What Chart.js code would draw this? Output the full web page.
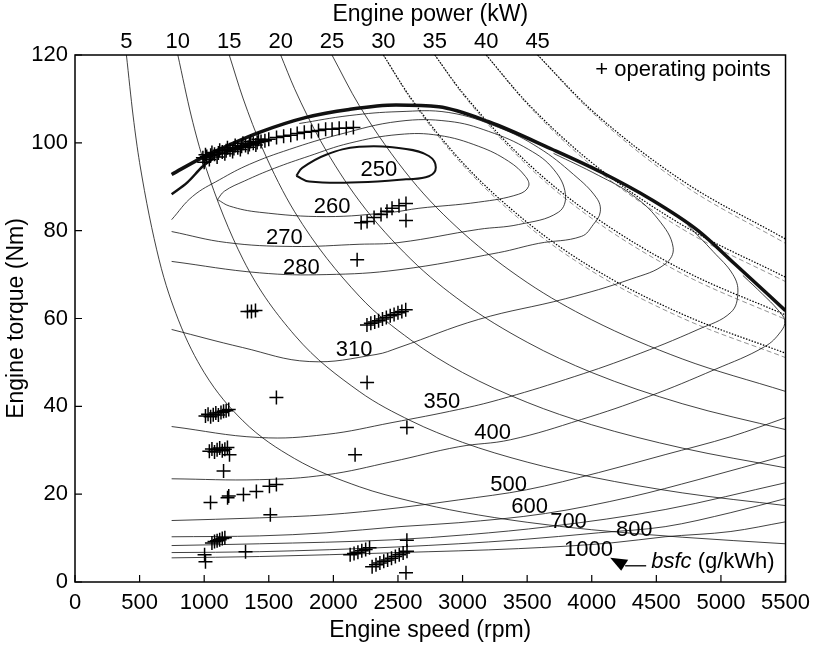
<!DOCTYPE html>
<html>
<head>
<meta charset="utf-8">
<script src="https://cdn.jsdelivr.net/npm/chart.js@4.4.0/dist/chart.umd.min.js"></script>
<style>
  html, body { margin: 0; padding: 0; background: #fff; }
  #wrap { width: 818px; height: 647px; }
</style>
</head>
<body>
<div id="wrap"><canvas id="map" width="818" height="647"></canvas></div>
<script>
// axis ticks
const speedTicks = [0, 500, 1000, 1500, 2000, 2500, 3000, 3500, 4000, 4500, 5000, 5500];
const torqueTicks = [0, 20, 40, 60, 80, 100, 120];
// top axis: where each iso-power line meets the 120 Nm border
const powerLevels = ['5', '10', '15', '20', '25', '30', '35', '40', '45'];
const powerTickRpm = [398, 796, 1194, 1592, 1989, 2387, 2785, 3183, 3581];

// iso-power lines [rpm, Nm]
const power5 = [[398, 120], [450, 106.1], [500, 95.5], [650, 73.5], [800, 59.7], [1000, 47.7], [1300, 36.7], [1700, 28.1], [2200, 21.7], [2600, 18.4], [3000, 15.9], [3500, 13.6], [4000, 11.9], [4700, 10.2], [5500, 8.7]];
const power10 = [[796, 120], [900, 106.1], [1000, 95.5], [1300, 73.5], [1700, 56.2], [2200, 43.4], [2600, 36.7], [3000, 31.8], [3500, 27.3], [4000, 23.9], [4700, 20.3], [5500, 17.4]];
const power15 = [[1194, 120], [1300, 110.2], [1450, 98.8], [1700, 84.3], [2200, 65.1], [2600, 55.1], [3000, 47.7], [3500, 40.9], [4000, 35.8], [4700, 30.5], [5500, 26.0]];
const power20 = [[1592, 120], [1700, 112.3], [1900, 100.5], [2200, 86.8], [2600, 73.5], [3000, 63.7], [3500, 54.6], [4000, 47.7], [4700, 40.6], [5500, 34.7]];
const power25 = [[1989, 120], [2200, 108.5], [2600, 91.8], [3000, 79.6], [3500, 68.2], [4000, 59.7], [4700, 50.8], [5500, 43.4]];
const power30 = [[2387, 120], [2600, 110.2], [3000, 95.5], [3500, 81.9], [4000, 71.6], [4700, 61.0], [5500, 52.1]];
const power35 = [[2785, 120], [3000, 111.4], [3500, 95.5], [4000, 83.6], [4700, 71.1], [5500, 60.8]];
const power40 = [[3183, 120], [3500, 109.1], [4000, 95.5], [4700, 81.3], [5500, 69.4]];
const power45 = [[3581, 120], [4000, 107.4], [4700, 91.4], [5500, 78.1]];
// grey dashed companions of the high power lines
const power30b = [[2387, 120], [2600, 109.9], [3000, 95.0], [3500, 81.2], [4000, 70.8], [4700, 60.1], [5500, 51.1]];
const power35b = [[2785, 120], [3000, 111.1], [3500, 94.9], [4000, 82.8], [4700, 70.2], [5500, 59.8]];
const power40b = [[3183, 120], [3500, 108.8], [4000, 94.8], [4700, 80.4], [5500, 68.4]];
const power45b = [[3581, 120], [4000, 107.0], [4700, 90.6], [5500, 77.1]];

// full load curve and the short lower branch
const fullLoad = [[748, 92.8], [988, 96.7], [1200, 99.6], [1427, 102.4], [1790, 105.8], [2122, 107.6], [2485, 108.6], [2816, 108.2], [3202, 104.8], [3688, 98.6], [4074, 93.3], [4460, 87.1], [4823, 80.0], [5108, 72.4], [5500, 61.8]];
const fullLoadLow = [[748, 88.3], [870, 91.0], [988, 94.6], [1080, 96.6]];

// bsfc contours (g/kWh)
const bsfc250 = [[1713, 92.5], [1759, 94.3], [1944, 97.3], [2199, 99.1], [2562, 98.6], [2739, 97.0], [2793, 94.4], [2739, 92.4], [2562, 91.7], [2199, 91.0], [1813, 91.2], [1713, 92.5]];
const bsfc260 = [[1103, 87.1], [1157, 89.0], [1311, 91.3], [1543, 94.2], [1813, 97.0], [2122, 99.9], [2508, 101.9], [2816, 101.7], [3125, 99.2], [3356, 95.8], [3488, 92.3], [3511, 90.1], [3434, 88.3], [3125, 86.5], [2662, 85.1], [2454, 84.2], [1944, 83.2], [1427, 84.2], [1196, 85.6], [1103, 87.1]];
const bsfc270 = [[748, 82.5], [910, 87.8], [1119, 91.6], [1350, 95.1], [1659, 98.5], [2045, 101.9], [2508, 104.9], [2894, 104.9], [3202, 102.6], [3511, 98.5], [3704, 94.0], [3796, 88.3], [3742, 84.2], [3434, 81.4], [3125, 80.3], [2508, 77.3], [2199, 76.9], [1682, 76.4], [1173, 77.3], [748, 79.8]];
const bsfc280 = [[1736, 104.4], [2122, 106.2], [2508, 107.1], [2894, 106.9], [3279, 103.5], [3588, 98.9], [3859, 92.8], [4036, 87.5], [4066, 84.3], [4012, 81.4], [3920, 78.7], [3588, 77.1], [3279, 75.0], [2508, 71.1], [1944, 70.0], [1427, 70.4], [748, 73.0]];
const bsfc310 = [[3704, 97.6], [4051, 92.6], [4306, 88.3], [4514, 82.6], [4630, 76.2], [4568, 72.4], [4306, 69.0], [3796, 64.5], [3125, 59.8], [2508, 53.4], [2330, 51.8], [1813, 50.2], [1296, 53.4], [748, 57.5]];
const bsfc350 = [[4745, 81.2], [4938, 75.3], [5093, 70.0], [5131, 65.9], [5077, 61.4], [4823, 57.5], [4306, 51.3], [3796, 46.1], [3279, 41.5], [2971, 39.3], [2454, 36.3], [1944, 33.6], [1427, 32.9], [748, 35.4]];
const bsfc400 = [[5170, 69.8], [5324, 65.5], [5440, 62.0], [5494, 59.5], [5463, 57.0], [5339, 53.6], [4954, 48.4], [4437, 42.2], [3920, 37.0], [3372, 32.4], [2971, 30.8], [2454, 27.4], [1944, 24.4], [1427, 23.3], [748, 23.5]];
const bsfc500 = [[748, 14.0], [1427, 14.6], [1944, 15.3], [2508, 16.9], [2971, 18.7], [3495, 21.0], [4051, 24.9], [4568, 29.0], [5077, 33.1], [5500, 37.4]];
const bsfc600 = [[748, 10.3], [1427, 10.5], [1944, 11.2], [2508, 12.6], [2971, 13.5], [3642, 15.6], [4306, 19.4], [4823, 23.3], [5500, 28.8]];
const bsfc700 = [[748, 8.3], [1427, 8.7], [2454, 9.6], [3048, 10.8], [3665, 12.6], [4568, 16.5], [5500, 22.6]];
const bsfc800 = [[748, 6.7], [1427, 6.9], [2508, 8.0], [3434, 9.6], [4051, 11.2], [4568, 12.6], [5077, 15.8], [5500, 19.0]];
const bsfc1000 = [[748, 5.5], [1427, 5.8], [2508, 6.7], [3434, 7.6], [4151, 8.9], [4568, 10.3], [5077, 11.5], [5500, 13.7]];

const bsfcLabels = ['250', '260', '270', '280', '310', '350', '400', '500', '600', '700', '800', '1000'];
const bsfcLabelAt = [[2353, 93.9], [1991, 85.5], [1620, 78.4], [1752, 71.6], [2160, 52.9], [2840, 41.1], [3233, 34.0], [3357, 22.2], [3519, 17.2], [3820, 13.6], [4329, 11.9], [3974, 7.35]];

// operating points [rpm, Nm]
const operatingPoints = [
  [990, 96.6], [1020, 96.9], [1050, 97.2], [1080, 97.4], [1110, 97.7], [1140, 97.9], [1170, 98.2], [1200, 98.4], [1230, 98.7],
  [1260, 98.9], [1290, 99.2], [1320, 99.4], [1350, 99.6], [1380, 99.9], [1410, 100.1], [1440, 100.3], [1470, 100.5], [1500, 100.8],
  [1000, 95.6], [1040, 96.2], [1100, 96.8], [1160, 97.5], [1220, 98.0], [1280, 98.5], [1340, 99.0], [1400, 99.5],
  [1010, 97.3], [1060, 97.8], [1120, 98.3], [1180, 98.9], [1240, 99.4], [1300, 99.9], [1360, 100.3], [1420, 100.8],
  [1560, 101.2], [1615, 101.5], [1670, 101.7], [1720, 102.1], [1775, 102.4], [1830, 102.6], [1885, 102.8], [1940, 103.1],
  [1990, 103.1], [2045, 103.3], [2100, 103.3], [2155, 103.5],
  [2215, 81.8], [2261, 82.1], [2315, 83.0], [2369, 83.7], [2415, 84.4], [2454, 85.1], [2508, 85.7], [2562, 86.2], [2562, 82.3],
  [2184, 73.4],
  [1335, 61.6], [1366, 61.6], [1397, 61.8],
  [2260, 58.5], [2290, 58.9], [2320, 59.2], [2350, 59.5], [2380, 59.9], [2410, 60.2], [2440, 60.6], [2470, 60.9], [2500, 61.3], [2530, 61.6], [2560, 62.0],
  [2261, 45.4], [1559, 42.0], [2569, 35.2], [2168, 29.0],
  [1010, 37.8], [1030, 38.2], [1050, 37.6], [1070, 38.1], [1090, 38.5], [1110, 38.0], [1130, 38.6], [1150, 38.9], [1170, 39.0], [1190, 39.3],
  [1040, 29.8], [1060, 30.3], [1080, 29.6], [1100, 30.1], [1120, 30.5], [1140, 29.9], [1160, 30.2], [1180, 30.6], [1196, 29.0],
  [1150, 25.3], [1049, 18.1], [1181, 19.2], [1190, 19.6], [1304, 19.9], [1404, 20.6], [1505, 21.8], [1559, 22.2], [1512, 15.3],
  [1060, 8.9], [1080, 9.2], [1100, 9.4], [1120, 9.6], [1140, 9.9], [1160, 10.1],
  [1320, 6.9], [1003, 6.2], [1010, 4.6],
  [2130, 6.2], [2160, 6.5], [2190, 6.8], [2220, 7.1], [2250, 7.4], [2280, 7.8],
  [2300, 3.5], [2330, 3.9], [2360, 4.3], [2390, 4.7], [2420, 5.0], [2450, 5.4], [2480, 5.8], [2510, 6.2], [2540, 6.6], [2570, 7.0],
  [2569, 9.5], [2562, 2.1]
];

// where the two notes sit [rpm, Nm]
const legendNoteAt = [5386, 116.5];
const bsfcNoteAt = [4460, 4.6];

const FONT = '"Liberation Sans", Arial, Helvetica, sans-serif';
Chart.defaults.font.family = FONT;
Chart.defaults.color = '#000';

const toXY = (pts) => pts.map((p) => ({ x: p[0], y: p[1] }));

function curve(pts, width, extra) {
  return Object.assign({
    data: toXY(pts),
    showLine: true,
    borderColor: '#111',
    borderWidth: width,
    pointRadius: 0,
    fill: false,
    tension: 0.4
  }, extra || {});
}

const mono = { cubicInterpolationMode: 'monotone' };
const dotted = { cubicInterpolationMode: 'monotone', borderDash: [1.5, 1.5], borderColor: '#000', borderWidth: 1.2 };
const dashedGrey = { cubicInterpolationMode: 'monotone', borderDash: [5, 3], borderColor: '#777', borderWidth: 0.8 };

const datasets = [
  {
    data: toXY(operatingPoints),
    pointStyle: 'cross',
    pointRadius: 7,
    pointBorderWidth: 1.5,
    pointBorderColor: '#000',
    showLine: false
  },
  curve(fullLoad, 3.5, mono),
  curve(fullLoadLow, 2.5, mono),
  curve(bsfc250, 2),
  curve(bsfc260, 0.8),
  curve(bsfc270, 0.8),
  curve(bsfc280, 0.8),
  curve(bsfc310, 0.8),
  curve(bsfc350, 0.8),
  curve(bsfc400, 0.8),
  curve(bsfc500, 0.8, mono),
  curve(bsfc600, 0.8, mono),
  curve(bsfc700, 0.8, mono),
  curve(bsfc800, 0.8, mono),
  curve(bsfc1000, 0.8, mono),
  curve(power5, 0.8, mono),
  curve(power10, 0.8, mono),
  curve(power15, 0.8, mono),
  curve(power20, 0.8, mono),
  curve(power25, 0.8, mono),
  curve(power30, 1.2, dotted),
  curve(power35, 1.2, dotted),
  curve(power40, 1.2, dotted),
  curve(power45, 1.2, dotted),
  curve(power30b, 0.8, dashedGrey),
  curve(power35b, 0.8, dashedGrey),
  curve(power40b, 0.8, dashedGrey),
  curve(power45b, 0.8, dashedGrey)
];

// frame, inward tick marks, contour labels and notes
const mapDecor = {
  id: 'mapDecor',
  afterDatasetsDraw(chart) {
    const { ctx, chartArea: a } = chart;
    const x = chart.scales.x;
    const y = chart.scales.y;
    ctx.save();
    ctx.strokeStyle = '#000';
    ctx.lineWidth = 1.5;
    ctx.strokeRect(a.left, a.top, a.right - a.left, a.bottom - a.top);

    ctx.lineWidth = 1.2;
    ctx.beginPath();
    speedTicks.forEach((v) => {
      const px = x.getPixelForValue(v);
      ctx.moveTo(px, a.bottom);
      ctx.lineTo(px, a.bottom - 7);
    });
    torqueTicks.forEach((v) => {
      const py = y.getPixelForValue(v);
      ctx.moveTo(a.left, py);
      ctx.lineTo(a.left + 7, py);
    });
    ctx.stroke();

    ctx.fillStyle = '#000';
    ctx.font = '22px ' + FONT;
    ctx.textAlign = 'center';
    ctx.textBaseline = 'middle';
    bsfcLabels.forEach((t, i) => {
      ctx.fillText(t, x.getPixelForValue(bsfcLabelAt[i][0]), y.getPixelForValue(bsfcLabelAt[i][1]));
    });

    ctx.textAlign = 'right';
    ctx.fillText('+ operating points', x.getPixelForValue(legendNoteAt[0]), y.getPixelForValue(legendNoteAt[1]));

    // bsfc (g/kWh) note with arrow pointing at the 1000 label
    const nx = x.getPixelForValue(bsfcNoteAt[0]);
    const ny = y.getPixelForValue(bsfcNoteAt[1]);
    ctx.textAlign = 'left';
    ctx.font = 'italic 22px ' + FONT;
    ctx.fillText('bsfc', nx, ny);
    const w = ctx.measureText('bsfc ').width;
    ctx.font = '22px ' + FONT;
    ctx.fillText('(g/kWh)', nx + w, ny);

    ctx.lineWidth = 1.3;
    ctx.beginPath();
    ctx.moveTo(nx - 5, ny + 4);
    ctx.lineTo(nx - 26, ny + 4);
    ctx.stroke();
    ctx.beginPath();
    ctx.moveTo(nx - 41, ny - 4);
    ctx.lineTo(nx - 23, ny - 2);
    ctx.lineTo(nx - 30, ny + 9);
    ctx.closePath();
    ctx.fill();
    ctx.restore();
  }
};

new Chart(document.getElementById('map'), {
  type: 'scatter',
  data: { datasets: datasets },
  options: {
    responsive: false,
    animation: false,
    layout: { padding: { left: 0, right: 30, top: 0, bottom: 0 } },
    plugins: {
      legend: { display: false },
      tooltip: { enabled: false }
    },
    scales: {
      x: {
        type: 'linear',
        position: 'bottom',
        min: 0,
        max: 5500,
        afterFit: (s) => { s.height = 65; },
        grid: { display: false, drawTicks: false },
        border: { display: false },
        ticks: { stepSize: 500, maxRotation: 0, autoSkip: false, padding: 8, font: { size: 22 }, callback: (v) => String(v) },
        title: { display: true, text: 'Engine speed (rpm)', font: { size: 23 }, padding: { top: 2, bottom: 3 } }
      },
      xTop: {
        type: 'linear',
        position: 'top',
        min: 0,
        max: 5500,
        afterBuildTicks: (s) => { s.ticks = powerTickRpm.map((v) => ({ value: v })); },
        afterFit: (s) => { s.height = 55; },
        grid: { display: false, drawTicks: false },
        border: { display: false },
        ticks: {
          autoSkip: false,
          maxRotation: 0,
          padding: 0,
          font: { size: 22 },
          callback: (v, i) => powerLevels[i]
        },
        title: { display: true, text: 'Engine power (kW)', font: { size: 23 }, padding: { top: 1, bottom: 2 } }
      },
      y: {
        type: 'linear',
        min: 0,
        max: 120,
        afterFit: (s) => { s.width = 75; },
        grid: { display: false, drawTicks: false },
        border: { display: false },
        ticks: { stepSize: 20, padding: 7, font: { size: 22 }, callback: (v) => String(v) },
        title: { display: true, text: 'Engine torque (Nm)', font: { size: 23 }, padding: { top: 3, bottom: 3 } }
      }
    }
  },
  plugins: [mapDecor]
});
</script>
</body>
</html>
